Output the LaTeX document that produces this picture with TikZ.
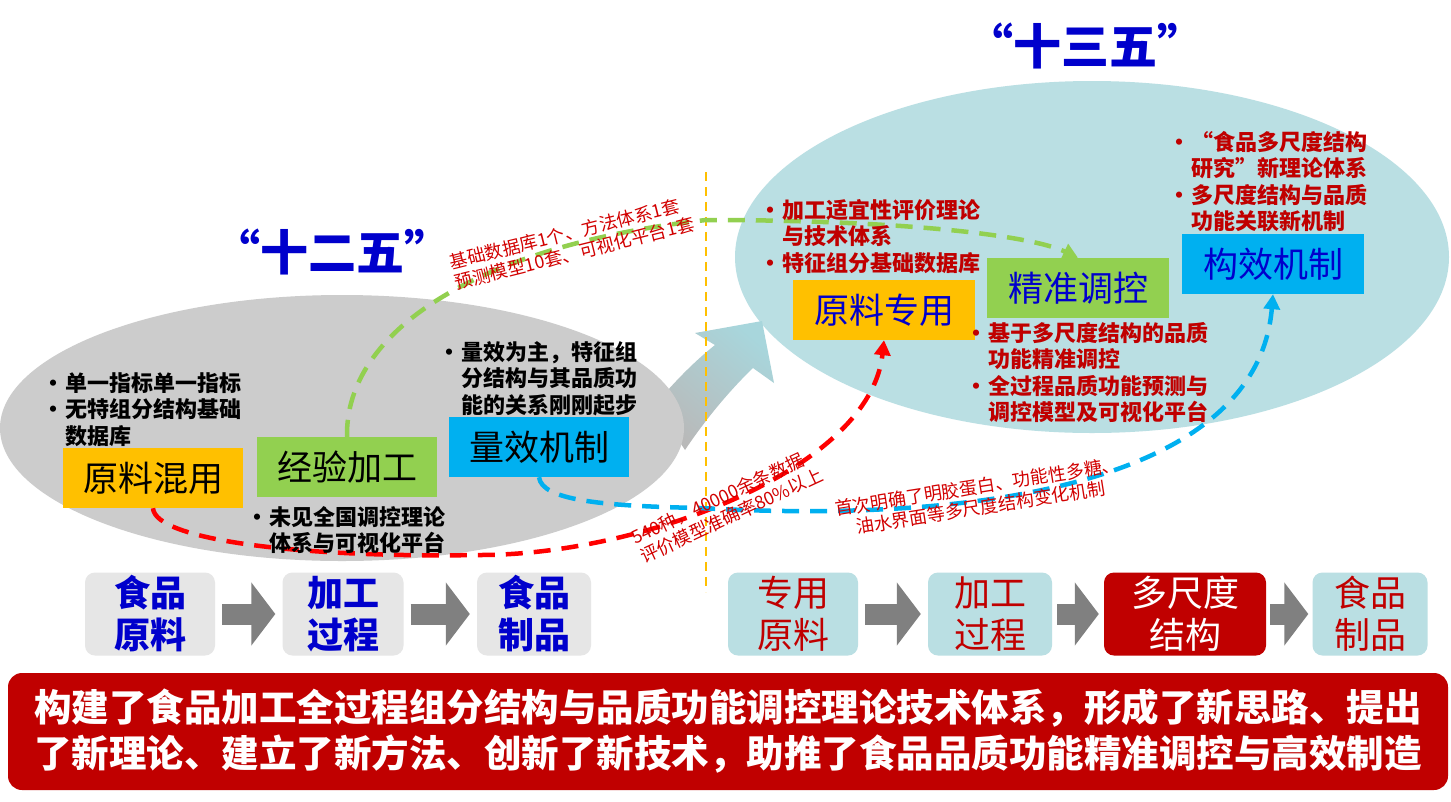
\documentclass[tikz,border=0pt]{standalone}
\usepackage{fontspec}
\setmainfont{Noto Sans CJK SC}
\usetikzlibrary{arrows.meta,calc}
\definecolor{ellgray}{RGB}{204,204,204}
\definecolor{elltea}{RGB}{186,223,227}
\definecolor{arrowteal}{RGB}{168,214,220}
\definecolor{boxyellow}{RGB}{255,192,0}
\definecolor{boxgreen}{RGB}{146,208,80}
\definecolor{boxcyan}{RGB}{0,176,240}
\definecolor{deepred}{RGB}{192,0,0}
\definecolor{notered}{RGB}{210,0,0}
\definecolor{titleblue}{RGB}{0,0,204}
\definecolor{flowgray}{RGB}{230,230,230}
\definecolor{arrowgray}{RGB}{128,128,128}
\newcommand{\bl}{\makebox[15pt][l]{\makebox[6pt]{\makebox[0pt]{•}}}}
\newcommand{\ind}{\hspace*{15pt}}

\begin{document}
\begin{tikzpicture}[x=1pt,y=-1pt,
  stage/.style={minimum width=180pt,minimum height=60pt,inner sep=0pt,font=\fontsize{35}{40}\selectfont},
  bullets/.style={anchor=north west,align=left,inner sep=0pt,font=\fontsize{22}{26.5}\selectfont\bfseries},
  note/.style={align=left,inner sep=0pt,text=notered,font=\fontsize{18}{21}\selectfont},
  trail/.style={line width=4.5pt,dash pattern=on 17pt off 11pt,-{Triangle[length=15pt,width=16pt]}},
  flow/.style={rounded corners=10pt,minimum height=83pt,inner sep=0pt,align=center,font=\fontsize{36}{42}\selectfont},
  flowarrow/.style={draw=arrowgray,line width=21pt,-{Triangle[length=24pt,width=62pt]}},
  title/.style={text=titleblue,font=\fontsize{48}{50}\selectfont\bfseries}]
  \useasboundingbox (0,0) rectangle (1451,801);
  \fill[white] (0,0) rectangle (1451,801);
  % the two periods
  \fill[elltea] (1092,257) ellipse [x radius=357, y radius=176];
  \shade[top color=arrowteal,middle color=white!92!arrowteal,bottom color=gray!55,shading angle=-40]
    (655,405) .. controls (680,375) and (700,357) .. (715,345) -- (695,333) -- (762,321)
    -- (774,383) -- (753,368) .. controls (730,390) and (705,420) .. (685,450) -- cycle;
  \fill[ellgray] (342,428) ellipse [x radius=342, y radius=133];
  \draw[boxyellow,line width=2pt,dash pattern=on 9pt off 6pt] (706,172) -- (706,592);
  \node[title] (t12) at (332,252) {“十二五”};
  \node[title] (t13) at (1085,46) {“十三五”};

  \node[stage,fill=boxyellow] (yl) at (153,478) {原料混用};
  \node[stage,fill=boxgreen] (jy) at (347,467) {经验加工};
  \node[stage,fill=boxcyan] (lx) at (539,447) {量效机制};
  \node[stage,fill=boxyellow,text=titleblue,minimum width=182pt] (yz) at (884,310) {原料专用};
  \node[stage,fill=boxgreen,text=titleblue,minimum width=182pt] (jz) at (1078,288) {精准调控};
  \node[stage,fill=boxcyan,text=titleblue,minimum width=182pt] (gx) at (1273,264) {构效机制};

  % dashed trails
  \draw[trail,boxgreen] (jy.north) .. controls (345,330) and (480,245) .. (706,220)
    .. controls (900,220) and (1030,235) .. (jz.north);
  \draw[trail,red] (yl.south) .. controls (155,540) and (300,558) .. (480,555)
    .. controls (640,555) and (870,470) .. (yz.south);
  \draw[trail,boxcyan] (lx.south) .. controls (542,500) and (600,506) .. (700,508)
    .. controls (1000,525) and (1258,475) .. (gx.south);
  \node[note,rotate=14] (n1) at (572,243) {基础数据库1个、方法体系1套\\预测模型10套、可视化平台1套};
  \node[note,rotate=25] (n2) at (727,506) {540种，40000余条数据\\评价模型准确率80\%以上};
  \node[note,rotate=9,align=center] (n3) at (979,497) {首次明确了明胶蛋白、功能性多糖、\\油水界面等多尺度结构变化机制};

  \node[bullets] (b1) at (50,372) {\bl 单一指标单一指标\\\bl 无特组分结构基础\\\ind 数据库};
  \node[bullets] (b2) at (254,506) {\bl 未见全国调控理论\\\ind 体系与可视化平台};
  \node[bullets] (b3) at (446,341) {\bl 量效为主，特征组\\\ind 分结构与其品质功\\\ind 能的关系刚刚起步};
  \node[bullets,text=deepred] (b4) at (767,199) {\bl 加工适宜性评价理论\\\ind 与技术体系\\\bl 特征组分基础数据库};
  \node[bullets,text=deepred] (b5) at (973,322) {\bl 基于多尺度结构的品质\\\ind 功能精准调控\\\bl 全过程品质功能预测与\\\ind 调控模型及可视化平台};
  \node[bullets,text=deepred] (b6) at (1176,131) {\bl “食品多尺度结构\\\ind 研究”新理论体系\\\bl 多尺度结构与品质\\\ind 功能关联新机制};

  % flow rows
  \node[flow,fill=flowgray,text=titleblue,font=\fontsize{36}{42}\selectfont\bfseries,minimum width=130pt] (f1) at (150,614) {食品\\原料};
  \node[flow,fill=flowgray,text=titleblue,font=\fontsize{36}{42}\selectfont\bfseries,minimum width=121pt] (f2) at (343,614) {加工\\过程};
  \node[flow,fill=flowgray,text=titleblue,font=\fontsize{36}{42}\selectfont\bfseries,minimum width=114pt] (f3) at (534,614) {食品\\制品};
  \draw[flowarrow] ([xshift=7pt]f1.east) -- ([xshift=-7pt]f2.west);
  \draw[flowarrow] ([xshift=7pt]f2.east) -- ([xshift=-7pt]f3.west);
  \node[flow,fill=elltea,text=deepred,minimum width=130pt] (g1) at (793,614) {专用\\原料};
  \node[flow,fill=elltea,text=deepred,minimum width=124pt] (g2) at (990,614) {加工\\过程};
  \node[flow,fill=deepred,text=white,minimum width=162pt] (g3) at (1185,614) {多尺度\\结构};
  \node[flow,fill=elltea,text=deepred,minimum width=115pt] (g4) at (1370,614) {食品\\制品};
  \draw[flowarrow] ([xshift=7pt]g1.east) -- ([xshift=-7pt]g2.west);
  \draw[flowarrow] ([xshift=5pt]g2.east) -- ([xshift=-5pt]g3.west);
  \draw[flowarrow] ([xshift=4pt]g3.east) -- ([xshift=-4pt]g4.west);

  \node[fill=deepred,rounded corners=14pt,minimum width=1440pt,minimum height=117pt,inner sep=0pt,
    text=white,align=left,font=\fontsize{37.5}{46}\selectfont\bfseries] (sum) at (728,731.5)
    {构建了食品加工全过程组分结构与品质功能调控理论技术体系，形成了新思路、提出\\了新理论、建立了新方法、创新了新技术，助推了食品品质功能精准调控与高效制造};
\end{tikzpicture}
\end{document}
